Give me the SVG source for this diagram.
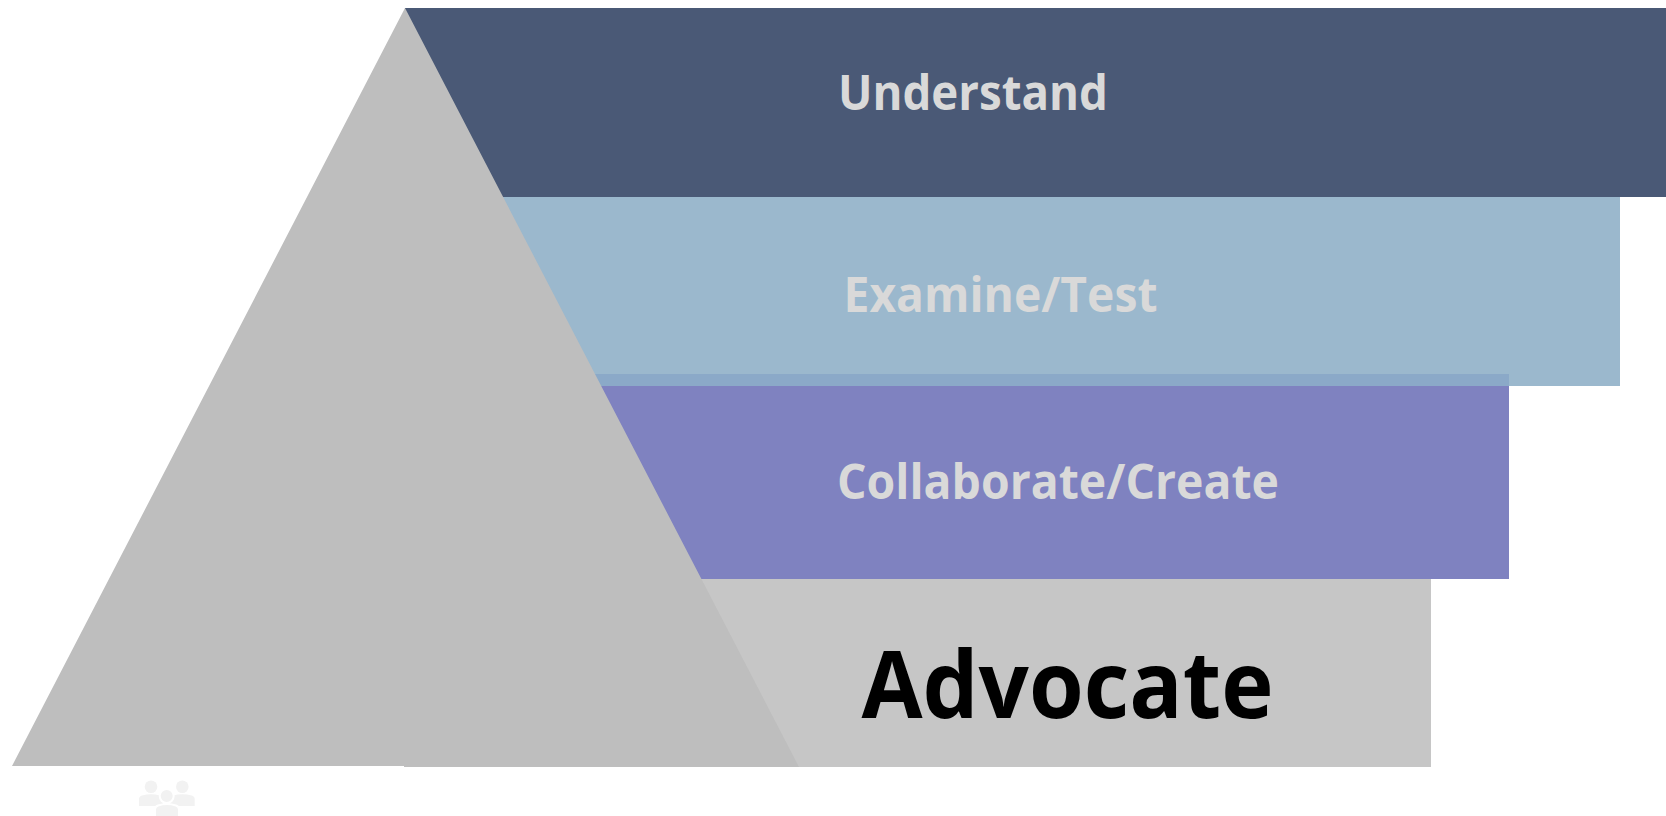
<svg xmlns="http://www.w3.org/2000/svg" width="1666" height="816" viewBox="0 0 1666 816">
<style>
text{font-family:"Open Sans","Noto Sans","Liberation Sans",sans-serif;font-weight:700;text-anchor:middle}
.light{fill:#D9D9D9;font-size:49px}
.icon{fill:#F2F2F2}
.cut{stroke:#FFFFFF;stroke-width:2}
</style>
<rect width="1666" height="816" fill="#FFFFFF"/>
<g id="band-advocate"><rect x="404" y="579" width="1027" height="188" fill="#C6C6C6"/><text x="1067.5" y="718" font-size="94" fill="#000000" textLength="412" lengthAdjust="spacingAndGlyphs">Advocate</text></g>
<g id="band-collaborate"><rect x="500" y="385" width="1009" height="194" fill="#7F82C0"/><text class="light" x="1058" y="499" textLength="442" lengthAdjust="spacingAndGlyphs">Collaborate/Create</text></g>
<g id="band-examine"><rect x="480" y="197" width="1140" height="189" fill="#9BB8CD"/><rect x="590" y="374" width="919" height="12" fill="#8BA9C8"/><text class="light" x="1000.500" y="312" textLength="314" lengthAdjust="spacingAndGlyphs">Examine/Test</text></g>
<g id="band-understand"><rect x="405" y="8" width="1261" height="189" fill="#4A5976"/><text class="light" x="973" y="110" textLength="270" lengthAdjust="spacingAndGlyphs">Understand</text></g>
<g id="triangle"><polygon points="405,8 12,766 404,766 404,767 799,767" fill="#BEBEBE"/></g>
<g id="people-icon" class="icon">
<circle cx="151" cy="786.700" r="6.300"/><circle cx="182.300" cy="786.700" r="6.300"/>
<path d="M139 806V799Q139 796.500 142 795.500Q151 793 160 795.500L163 797V806Z"/>
<path d="M194.700 806V799Q194.700 796.500 191.700 795.500Q182.300 793 173 795.500L170 797V806Z"/>
<circle class="cut" cx="166.700" cy="796" r="7"/>
<path class="cut" d="M155 817V809.500Q155 806.500 158 805.500Q167 802.500 176 805.500Q179 806.500 179 809.500V817Z"/>
</g>
<g id="connectors"></g>
</svg>
